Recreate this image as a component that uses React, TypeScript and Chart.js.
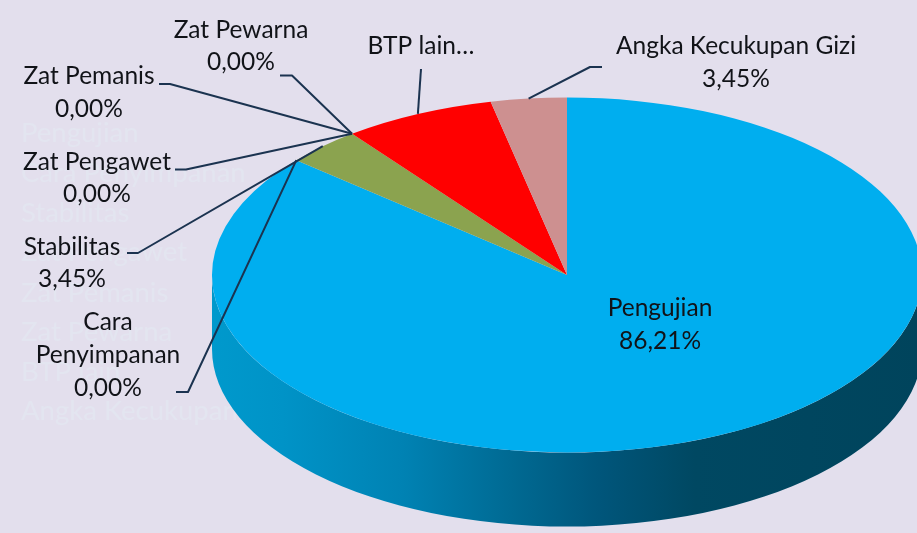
import React, { useEffect, useRef } from "react";
import { Chart, registerables } from "chart.js";

Chart.register(...registerables);

const categories = [
  "Pengujian",
  "Cara Penyimpanan",
  "Stabilitas",
  "Zat Pengawet",
  "Zat Pemanis",
  "Zat Pewarna",
  "BTP lain",
  "Angka Kecukupan Gizi",
];
const values = [86.21, 0, 3.45, 0, 0, 0, 6.9, 3.45];
const sliceColors = ["#00AEEF", "#00AEEF", "#8BA34F", "#8BA34F", "#FF0000", "#FF0000", "#FF0000", "#CD9090"];

const W = 917;
const H = 533;
const BG = "#E3DFED";
const TEXT = "#111318";
const LINE = "#1B3350";
const RADIUS = 355;
const SQUASH = 0.5;
const DEPTH = 74;
const FONT = "24.5px Lato";

// label layout: index into categories, centre x, line centre ys, text lines, leader elbow path
const labelLayout = [
  { i: 0, cx: 660, ys: [308, 341], lines: ["Pengujian", "86,21%"], path: null },
  { i: 1, cx: 108, ys: [322, 355, 388], lines: ["Cara", "Penyimpanan", "0,00%"], path: [[176, 392], [188, 392]] },
  { i: 2, cx: 72, ys: [247, 279], lines: ["Stabilitas", "3,45%"], path: [[127, 253], [138, 253]] },
  { i: 3, cx: 97, ys: [162, 194], lines: ["Zat Pengawet", "0,00%"], path: [[175, 169.5], [186, 169.5]] },
  { i: 4, cx: 89, ys: [76, 109], lines: ["Zat Pemanis", "0,00%"], path: [[159, 84], [170, 84]] },
  { i: 5, cx: 241, ys: [30, 62], lines: ["Zat Pewarna", "0,00%"], path: [[280, 75.5], [292, 75.5]] },
  { i: 6, cx: 421, ys: [46], lines: ["BTP lain…"], path: [[421, 69]] },
  { i: 7, cx: 736, ys: [46, 79], lines: ["Angka Kecukupan Gizi", "3,45%"], path: [[602, 67], [590, 67]] },
];
const ghostYs = [133, 173, 213, 252, 293, 332, 372, 411];

const pie3d = {
  id: "pie3d",
  beforeDatasetsDraw(chart: any) {
    const ctx = chart.ctx;
    const arcs = chart.getDatasetMeta(0).data;
    // faint legend behind the pie
    ctx.save();
    ctx.font = "27.5px Lato";
    ctx.fillStyle = "#E3E5F0";
    ctx.textAlign = "left";
    ctx.textBaseline = "middle";
    categories.forEach((c, k) => ctx.fillText(c, 21, ghostYs[k]));
    ctx.restore();

    const a0 = arcs[0];
    const cx = a0.x;
    const cy = a0.y;
    const ry = a0.outerRadius * SQUASH;
    const rx = a0.outerRadius;
    const g = ctx.createLinearGradient(cx - rx, 0, cx + rx, 0);
    g.addColorStop(0, "#0099CC");
    g.addColorStop(0.1, "#0093C7");
    g.addColorStop(0.27, "#0082B3");
    g.addColorStop(0.42, "#006A93");
    g.addColorStop(0.55, "#00557A");
    g.addColorStop(0.68, "#004862");
    g.addColorStop(1, "#00445C");
    arcs.forEach((arc: any) => {
      const s = Math.max(arc.startAngle, 0);
      const e = Math.min(arc.endAngle, Math.PI);
      if (e <= s) return;
      ctx.beginPath();
      ctx.ellipse(cx, cy, rx, ry, 0, s, e);
      ctx.ellipse(cx, cy + DEPTH, rx, ry, 0, e, s, true);
      ctx.closePath();
      ctx.fillStyle = g;
      ctx.fill();
    });

    ctx.save();
    ctx.translate(0, cy);
    ctx.scale(1, SQUASH);
    ctx.translate(0, -cy);
  },
  afterDatasetsDraw(chart: any) {
    const ctx = chart.ctx;
    ctx.restore();
    const arcs = chart.getDatasetMeta(0).data;

    // leader lines end on the rim at each slice's middle angle
    ctx.save();
    ctx.strokeStyle = LINE;
    ctx.lineWidth = 2;
    ctx.lineJoin = "round";
    labelLayout.forEach((l) => {
      if (!l.path) return;
      const arc = arcs[l.i];
      const mid = (arc.startAngle + arc.endAngle) / 2;
      const px = arc.x + arc.outerRadius * Math.cos(mid);
      const py = arc.y + arc.outerRadius * SQUASH * Math.sin(mid);
      ctx.beginPath();
      l.path.forEach((p: number[], k: number) => (k ? ctx.lineTo(p[0], p[1]) : ctx.moveTo(p[0], p[1])));
      ctx.lineTo(px, py);
      ctx.stroke();
    });

    ctx.font = FONT;
    ctx.fillStyle = TEXT;
    ctx.textAlign = "center";
    ctx.textBaseline = "middle";
    labelLayout.forEach((l) => {
      l.lines.forEach((t, k) => ctx.fillText(t, l.cx, l.ys[k]));
    });
    ctx.restore();
  },
};

export default function App() {
  const ref = useRef<HTMLCanvasElement>(null);
  useEffect(() => {
    const chart = new Chart(ref.current as HTMLCanvasElement, {
      type: "pie",
      data: {
        labels: categories,
        datasets: [
          {
            data: values,
            backgroundColor: sliceColors,
            borderWidth: 0,
            clip: false as any,
          },
        ],
      },
      options: {
        responsive: false,
        animation: false,
        radius: RADIUS,
        layout: { padding: { left: 217, top: 17, right: 0, bottom: 0 } },
        plugins: {
          legend: { display: false },
          tooltip: { enabled: false },
        },
      } as any,
      plugins: [pie3d],
    });
    return () => chart.destroy();
  }, []);
  return (
    <div style={{ position: "absolute", left: 0, top: 0, width: W, height: H, background: BG, overflow: "hidden" }}>
      <canvas ref={ref} width={W} height={H} style={{ display: "block" }} />
    </div>
  );
}
